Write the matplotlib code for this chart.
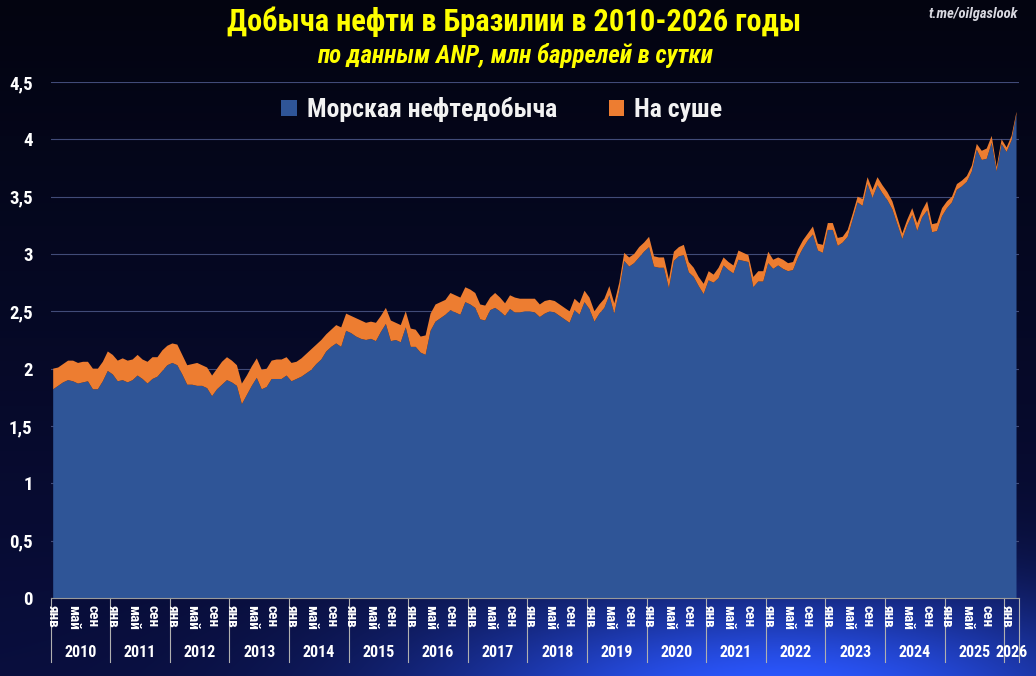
import matplotlib
matplotlib.use('Agg')
import matplotlib.pyplot as plt
import matplotlib.transforms as mtransforms
from matplotlib import font_manager as fm
import numpy as np

# monthly output, mln bbl/day (ANP), Jan 2010 - Mar 2026
offshore = [
    1.82, 1.85, 1.88, 1.90, 1.89, 1.87, 1.88, 1.89, 1.82, 1.82, 1.89, 1.98,  # 2010
    1.95, 1.89, 1.90, 1.88, 1.90, 1.94, 1.91, 1.87, 1.91, 1.93, 1.98, 2.03,  # 2011
    2.05, 2.03, 1.95, 1.86, 1.86, 1.85, 1.85, 1.83, 1.76, 1.82, 1.86, 1.90,  # 2012
    1.88, 1.85, 1.69, 1.77, 1.85, 1.92, 1.82, 1.84, 1.91, 1.91, 1.91, 1.94,  # 2013
    1.89, 1.91, 1.93, 1.96, 1.99, 2.04, 2.08, 2.15, 2.19, 2.22, 2.19, 2.33,  # 2014
    2.31, 2.28, 2.26, 2.25, 2.26, 2.24, 2.32, 2.39, 2.24, 2.25, 2.23, 2.36,  # 2015
    2.19, 2.19, 2.14, 2.12, 2.33, 2.41, 2.44, 2.47, 2.51, 2.49, 2.47, 2.58,  # 2016
    2.56, 2.53, 2.43, 2.42, 2.51, 2.53, 2.50, 2.46, 2.52, 2.49, 2.49, 2.50,  # 2017
    2.50, 2.49, 2.45, 2.48, 2.50, 2.49, 2.46, 2.43, 2.40, 2.51, 2.47, 2.58,  # 2018
    2.52, 2.41, 2.48, 2.53, 2.64, 2.48, 2.68, 2.94, 2.89, 2.92, 2.97, 3.02,  # 2019
    3.06, 2.89, 2.88, 2.88, 2.70, 2.94, 2.98, 2.99, 2.84, 2.80, 2.72, 2.65,  # 2020
    2.77, 2.75, 2.79, 2.90, 2.86, 2.83, 2.95, 2.94, 2.93, 2.71, 2.76, 2.76,  # 2021
    2.92, 2.87, 2.90, 2.87, 2.85, 2.86, 2.97, 3.05, 3.12, 3.17, 3.03, 3.01,  # 2022
    3.21, 3.21, 3.07, 3.10, 3.15, 3.30, 3.45, 3.42, 3.61, 3.49, 3.60, 3.53,  # 2023
    3.47, 3.39, 3.26, 3.13, 3.25, 3.34, 3.20, 3.32, 3.38, 3.19, 3.20, 3.33,  # 2024
    3.40, 3.45, 3.56, 3.59, 3.63, 3.72, 3.91, 3.82, 3.83, 3.97, 3.72, 3.96,  # 2025
    3.89, 3.99, 4.22,                                                        # 2026
]

onshore = [
    0.18, 0.16, 0.16, 0.17, 0.18, 0.18, 0.18, 0.17, 0.18, 0.18, 0.17, 0.17,  # 2010
    0.17, 0.18, 0.19, 0.19, 0.18, 0.18, 0.17, 0.19, 0.19, 0.17, 0.18, 0.17,  # 2011
    0.17, 0.18, 0.17, 0.17, 0.18, 0.20, 0.18, 0.18, 0.18, 0.18, 0.20, 0.20,  # 2012
    0.19, 0.18, 0.18, 0.17, 0.17, 0.17, 0.17, 0.16, 0.16, 0.17, 0.17, 0.16,  # 2013
    0.16, 0.15, 0.16, 0.17, 0.18, 0.17, 0.17, 0.15, 0.15, 0.16, 0.17, 0.15,  # 2014
    0.15, 0.16, 0.16, 0.15, 0.15, 0.16, 0.14, 0.14, 0.18, 0.15, 0.15, 0.14,  # 2015
    0.16, 0.15, 0.14, 0.17, 0.15, 0.15, 0.14, 0.13, 0.15, 0.15, 0.15, 0.13,  # 2016
    0.13, 0.13, 0.13, 0.13, 0.11, 0.13, 0.12, 0.11, 0.12, 0.13, 0.12, 0.11,  # 2017
    0.11, 0.12, 0.11, 0.11, 0.10, 0.10, 0.10, 0.10, 0.10, 0.10, 0.10, 0.10,  # 2018
    0.10, 0.09, 0.08, 0.08, 0.08, 0.09, 0.07, 0.07, 0.08, 0.08, 0.09, 0.08,  # 2019
    0.09, 0.09, 0.09, 0.09, 0.08, 0.08, 0.08, 0.09, 0.09, 0.08, 0.08, 0.09,  # 2020
    0.08, 0.07, 0.09, 0.07, 0.07, 0.07, 0.08, 0.07, 0.06, 0.09, 0.09, 0.09,  # 2021
    0.10, 0.08, 0.07, 0.08, 0.07, 0.07, 0.07, 0.07, 0.06, 0.07, 0.06, 0.07,  # 2022
    0.06, 0.06, 0.07, 0.05, 0.06, 0.05, 0.05, 0.06, 0.06, 0.07, 0.07, 0.07,  # 2023
    0.07, 0.07, 0.06, 0.05, 0.05, 0.06, 0.07, 0.06, 0.08, 0.07, 0.07, 0.07,  # 2024
    0.06, 0.05, 0.05, 0.05, 0.05, 0.05, 0.05, 0.08, 0.09, 0.06, 0.04, 0.04,  # 2025
    0.04, 0.04, 0.02,                                                        # 2026
]

years = list(range(2010, 2027))
month_names = ['янв', 'фев', 'мар', 'апр', 'май', 'июн',
               'июл', 'авг', 'сен', 'окт', 'ноя', 'дек']
shown_months = ['янв', 'май', 'сен']
y_ticks = [0, 0.5, 1, 1.5, 2, 2.5, 3, 3.5, 4, 4.5]

series_names = ['Морская нефтедобыча', 'На суше']
colors = ['#2F5597', '#ED7D31']

# pick a narrow font if there is one (the original uses a condensed face)
installed = {f.name for f in fm.fontManager.ttflist}
narrow = None
for cand in ['Liberation Sans Narrow', 'Roboto Condensed', 'Open Sans Condensed',
             'DejaVu Sans Condensed', 'Noto Sans Condensed']:
    if cand in installed:
        narrow = cand
        break
stretch = 'normal'
if narrow is None:
    narrow = 'DejaVu Sans'
    if any(f.name == 'DejaVu Sans' and 'Condensed' in f.fname for f in fm.fontManager.ttflist):
        stretch = 'condensed'
    scale = 0.85 if stretch == 'normal' else 1.0
else:
    scale = 1.0
plt.rcParams['font.family'] = [narrow, 'DejaVu Sans']
plt.rcParams['font.stretch'] = stretch

W, H = 1036, 676
fig = plt.figure(figsize=(W / 100, H / 100), dpi=100)

# dark "space" background with blue glow at the bottom
bg = fig.add_axes([0, 0, 1, 1], zorder=-10)
yy, xx = np.mgrid[0:H, 0:W]
t = yy / H
img = np.zeros((H, W, 3))
img[..., 0] = 3 + 6 * t
img[..., 1] = 4 + 10 * t
img[..., 2] = 16 + 45 * t
glow = np.exp(-((xx - 780) / 340.0) ** 2 - ((yy - 700) / 110.0) ** 2)
img[..., 0] += 35 * glow
img[..., 1] += 75 * glow
img[..., 2] += 200 * glow
bg.imshow(np.clip(img, 0, 255).astype(np.uint8), aspect='auto', extent=[0, 1, 0, 1])
bg.axis('off')

left, right, top, bottom = 50.7, 1019.0, 82.0, 598.0
ax = fig.add_axes([left / W, (H - bottom) / H, (right - left) / W, (bottom - top) / H])
ax.patch.set_alpha(0)

n = len(offshore)
x = np.arange(n) + 0.5
ax.stackplot(x, offshore, onshore, colors=colors, labels=series_names, zorder=2)

ax.set_xlim(0, n)
ax.set_ylim(0, 4.5)
ax.set_yticks(y_ticks)
ax.set_yticklabels([f'{v:g}'.replace('.', ',') for v in y_ticks])
ax.tick_params(axis='y', length=0, pad=13, labelcolor='white', labelsize=13.5 * scale)
for lab in ax.get_yticklabels():
    lab.set_fontweight('bold')
ax.set_xticks([])
ax.grid(axis='y', color='#414b78', lw=0.8)
ax.set_axisbelow(True)
for s in ['top', 'right', 'left']:
    ax.spines[s].set_visible(False)
ax.spines['bottom'].set_color('#9a9a9a')
ax.spines['bottom'].set_zorder(3)

# two-level category axis: months and years
trans = mtransforms.blended_transform_factory(ax.transData, ax.transAxes)
for i in range(n):
    name = month_names[i % 12]
    if name in shown_months:
        ax.text(i + 0.5, -0.014, name, transform=trans, rotation=-90,
                ha='center', va='top', color='white', fontsize=11 * scale,
                fontweight='bold')
for k, yr in enumerate(years):
    start = 12 * k
    end = min(start + 12, n)
    ax.text((start + end) / 2, -0.105, str(yr), transform=trans, ha='center',
            va='center', color='white', fontsize=11.5 * scale, fontweight='bold')
    ax.plot([start, start], [0, -0.124], transform=trans, color='#b0b0b0',
            lw=0.8, clip_on=False)
ax.plot([n, n], [0, -0.124], transform=trans, color='#b0b0b0', lw=0.8, clip_on=False)

leg = ax.legend(loc='center', bbox_to_anchor=(0.466, 0.946), ncol=2,
                frameon=False, fontsize=18.5 * scale, handlelength=0.6,
                handleheight=0.6, handletextpad=0.4, columnspacing=2.0)
for txt in leg.get_texts():
    txt.set_color('#f2f2f2')
    txt.set_fontweight('bold')

fig.text(514 / W, 1 - 22 / H, 'Добыча нефти в Бразилии в 2010-2026 годы',
         ha='center', va='center', color='#ffff00', fontsize=22 * scale,
         fontweight='bold')
fig.text(515 / W, 1 - 55 / H, 'по данным ANP, млн баррелей в сутки',
         ha='center', va='center', color='#ffff00', fontsize=18 * scale,
         fontweight='bold', style='italic')
fig.text(973 / W, 1 - 14 / H, 't.me/oilgaslook', ha='center', va='center',
         color='#d8d8e0', fontsize=10.5 * scale, fontweight='bold', style='italic')

fig.savefig('out.png', dpi=100)
